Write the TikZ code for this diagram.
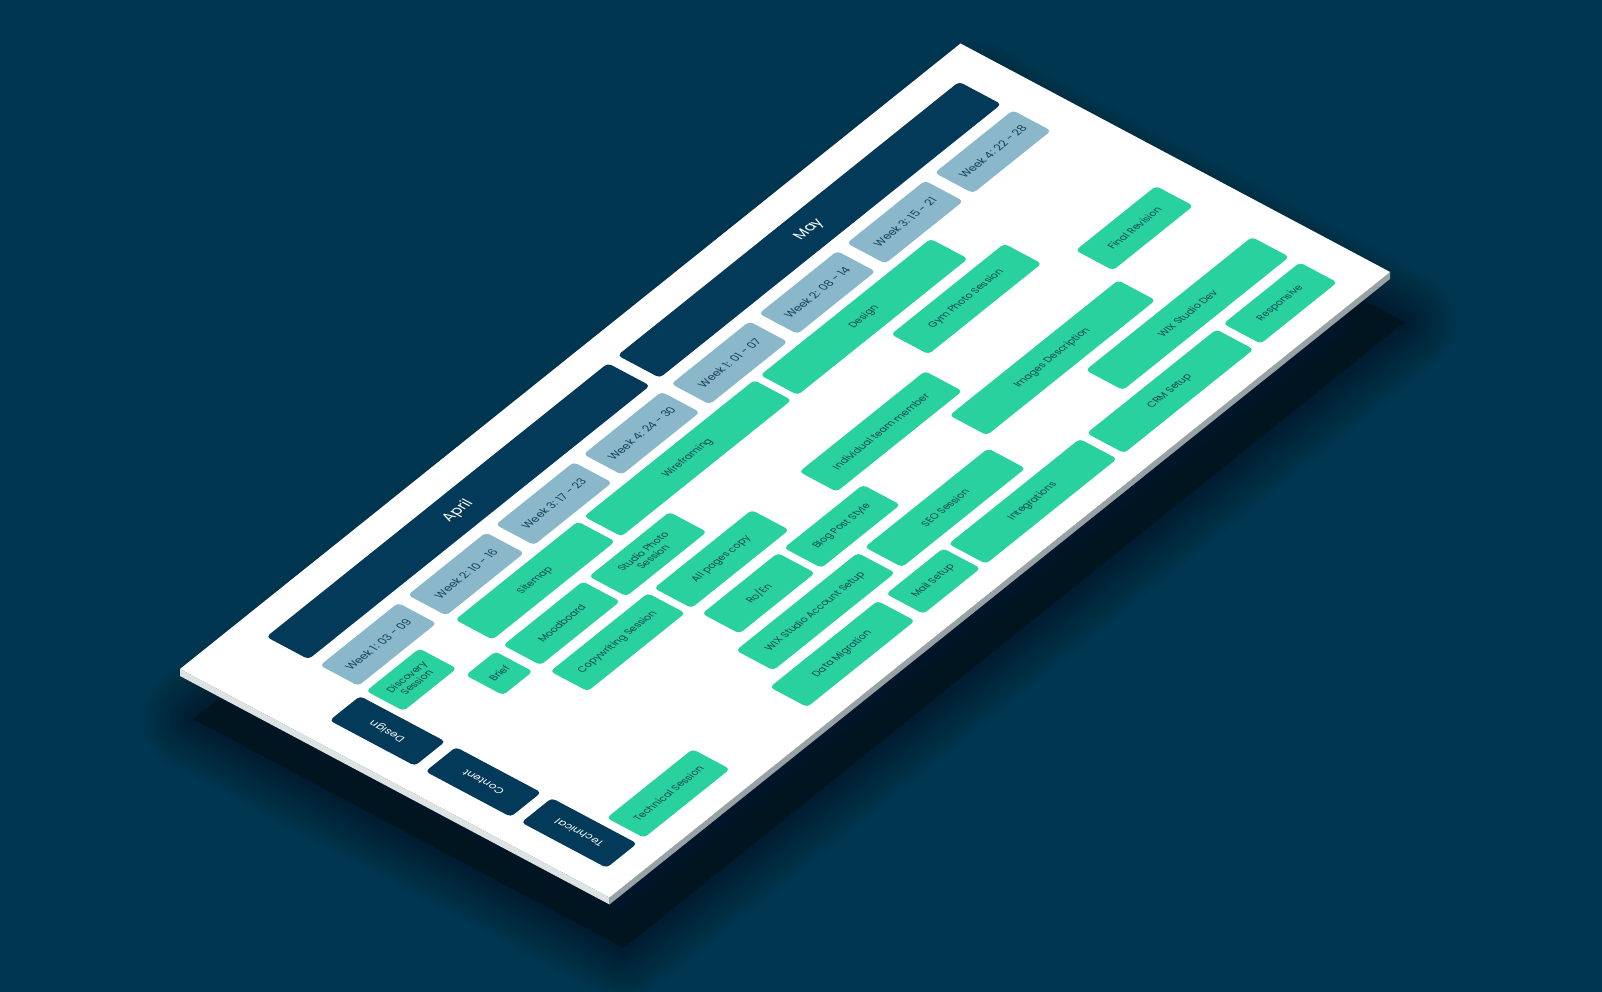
\documentclass[tikz,border=0pt]{standalone}
\usepackage{fontspec}
\setmainfont{Poppins}
\usetikzlibrary{calc}
\definecolor{bgc}{HTML}{013651}
\definecolor{navy}{HTML}{033A59}
\definecolor{weekc}{HTML}{8BB7CA}
\definecolor{greenc}{HTML}{28D19E}
\definecolor{gtext}{HTML}{0F4450}
\definecolor{wtext}{HTML}{173F57}
\definecolor{shadowc}{HTML}{001520}
\definecolor{faceL}{HTML}{DDE2E3}
\definecolor{faceR}{HTML}{98A2A5}
\tikzset{
  plane/.style={cm={0.7805,0.6255,-0.95871,0.51004,(180pt,323pt)}},
  box/.style={rectangle, rounded corners=4pt, inner sep=0pt, transform shape, align=center},
  taskbox/.style={box, fill=greenc, text=gtext, font=\fontsize{9.5}{10.5}\selectfont, minimum height=39pt},
  weekbox/.style={box, fill=weekc, text=wtext, font=\fontsize{10.5}{12}\selectfont, minimum height=40pt, minimum width=100pt},
  monthbox/.style={box, fill=navy, text=white, font=\fontsize{14}{16}\selectfont, minimum height=44pt, minimum width=437.5pt},
  rowbox/.style={box, fill=navy, text=white, font=\fontsize{10}{12}\selectfont, rotate=90, minimum width=89pt, minimum height=39pt},
}
\begin{document}
\begin{tikzpicture}[x=1pt,y=1pt]
\fill[bgc] (0,0) rectangle (1602,992);
\useasboundingbox (0,0) rectangle (1602,992);
\begin{scope}[plane]
  \coordinate (cL) at (0,0);
  \coordinate (cT) at (1000,0);
  \coordinate (cR) at (1000,-448);
  \coordinate (cB) at (0,-448);
\end{scope}
% soft shadow
\foreach \r in {104,100,...,4} {
  \draw[shadowc, fill=shadowc, opacity=0.028, line width=\r pt, line join=round]
    ($(cL)+(14,-50)$) -- ($(cT)+(14,-50)$) -- ($(cR)+(14,-50)$) -- ($(cB)+(14,-50)$) -- cycle;
}
% board sides
\fill[faceL] (cL) -- (cB) -- ($(cB)+(0,-7)$) -- ($(cL)+(0,-7)$) -- cycle;
\fill[faceR] (cB) -- (cR) -- ($(cR)+(0,-7)$) -- ($(cB)+(0,-7)$) -- cycle;
\begin{scope}[plane]
  \fill[white] (0,0) rectangle (1000,-448);
  % months
  \node[monthbox] (april) at (293.75,-51) {April};
  \node[monthbox] (may) at (743.75,-51) {May};
  % weeks
  \node[weekbox] (w1) at (125,-105) {Week 1: 03 - 09};
  \node[weekbox] (w2) at (237.5,-105) {Week 2: 10 - 16};
  \node[weekbox] (w3) at (350,-105) {Week 3: 17 - 23};
  \node[weekbox] (w4) at (462.5,-105) {Week 4: 24 - 30};
  \node[weekbox] (w5) at (575,-105) {Week 1: 01 - 07};
  \node[weekbox] (w6) at (687.5,-105) {Week 2: 08 - 14};
  \node[weekbox] (w7) at (800,-105) {Week 3: 15 - 21};
  \node[weekbox] (w8) at (912.5,-105) {Week 4: 22 - 28};
  % row labels
  \node[rowbox] (rdesign) at (46.5,-178.5) {Design};
  \node[rowbox] (rcontent) at (46.5,-278.5) {Content};
  \node[rowbox] (rtech) at (46.5,-378.5) {Technical};
  % tasks row 1
  \node[taskbox, minimum width=68pt] (disc) at (108,-153.5) {Discovery\\Session};
  \node[taskbox, minimum width=157pt] (sitemap) at (266.5,-153.5) {Sitemap};
  \node[taskbox, minimum width=218pt] (wire) at (462,-153.5) {Wireframing};
  \node[taskbox, minimum width=218pt] (designt) at (688,-153.5) {Design};
  % row 2
  \node[taskbox, minimum width=38pt] (brief) at (159,-203.5) {Brief};
  \node[taskbox, minimum width=102pt] (mood) at (239,-203.5) {Moodboard};
  \node[taskbox, minimum width=103pt] (studio) at (349.5,-203.5) {Studio Photo\\Session};
  \node[taskbox, minimum width=145pt] (gym) at (757.5,-203.5) {Gym Photo Session};
  % row 3
  \node[taskbox, minimum width=125pt] (copyw) at (249.5,-253.5) {Copywriting Session};
  \node[taskbox, minimum width=125pt] (allp) at (382.5,-253.5) {All pages copy};
  \node[taskbox, minimum width=161pt] (indiv) at (586.5,-253.5) {Individual team member};
  \node[taskbox, minimum width=103pt] (final) at (911.5,-253.5) {Final Revision};
  % row 4
  \node[taskbox, minimum width=97pt] (roen) at (368.5,-303.5) {Ro/En};
  \node[taskbox, minimum width=101pt] (blog) at (475.5,-303.5) {Blog Post Style};
  \node[taskbox, minimum width=216pt] (images) at (745,-303.5) {Images Description};
  % row 5
  \node[taskbox, minimum width=156pt] (wixacc) at (380,-353.5) {WIX Studio Account Setup};
  \node[taskbox, minimum width=158pt] (seo) at (546,-353.5) {SEO Session};
  \node[taskbox, minimum width=213pt] (wixdev) at (856.5,-353.5) {WIX Studio Dev};
  % row 6
  \node[taskbox, minimum width=110pt] (techs) at (130,-403.5) {Technical Session};
  \node[taskbox, minimum width=138pt] (datam) at (353,-403.5) {Data Migration};
  \node[taskbox, minimum width=73pt] (mail) at (469.5,-403.5) {Mail Setup};
  \node[taskbox, minimum width=168pt] (integ) at (597,-403.5) {Integrations};
  \node[taskbox, minimum width=166pt] (crm) at (773,-403.5) {CRM Setup};
  \node[taskbox, minimum width=98pt] (resp) at (914,-403.5) {Responsive};
\end{scope}
\end{tikzpicture}
\end{document}
